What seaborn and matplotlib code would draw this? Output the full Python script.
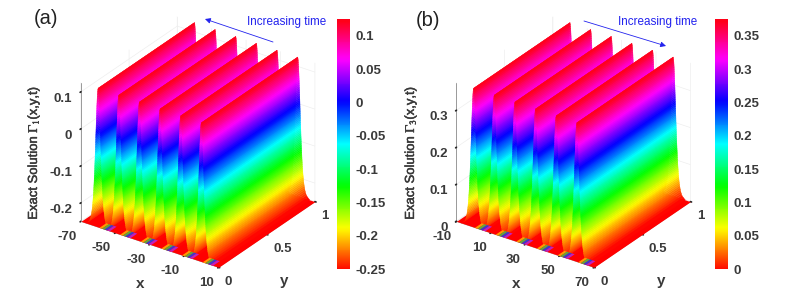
import numpy as np
import matplotlib

matplotlib.use("Agg")

import matplotlib.patheffects as pe
import matplotlib.pyplot as plt
import seaborn as sns
from matplotlib.cm import ScalarMappable
from matplotlib.colors import Normalize
from matplotlib.patches import FancyArrowPatch

sns.set_theme(style="white")
plt.rcParams["font.family"] = ["Liberation Sans", "DejaVu Sans"]
plt.rcParams["mathtext.fontset"] = "stix"

# ridge cross section: distance from crest, height fraction
wall_dx = [0, 0.22, 0.32, 0.39, 0.46, 0.51, 0.56, 0.61, 0.65, 0.70, 0.74, 0.78, 0.82, 0.86,
           0.89, 0.93, 0.96, 1.00, 1.03, 1.07, 1.10, 1.13, 1.16, 1.19, 1.23, 1.26, 1.29,
           1.33, 1.36, 1.39, 1.42, 1.46, 1.49, 1.52, 1.56, 1.59, 1.62, 1.65, 1.69, 1.73,
           1.76, 1.80, 1.84, 1.87, 1.91, 1.94, 1.98, 2.02, 2.06, 2.10, 2.14, 2.18, 2.23,
           2.28, 2.33, 2.37, 2.42, 2.47, 2.52, 2.57, 2.63, 2.69, 2.75, 2.82, 2.89, 2.96,
           3.03, 3.11, 3.20, 3.29, 3.39, 3.51, 3.64, 3.78, 3.94, 4.13, 4.36, 4.67, 5.04,
           5.85, 7.0]
wall_height = [1.0, 0.9875, 0.975, 0.9625, 0.95, 0.9375, 0.925, 0.9125, 0.9, 0.8875, 0.875,
               0.8625, 0.85, 0.8375, 0.825, 0.8125, 0.8, 0.7875, 0.775, 0.7625, 0.75, 0.7375,
               0.725, 0.7125, 0.7, 0.6875, 0.675, 0.6625, 0.65, 0.6375, 0.625, 0.6125, 0.6,
               0.5875, 0.575, 0.5625, 0.55, 0.5375, 0.525, 0.5125, 0.5, 0.4875, 0.475, 0.4625,
               0.45, 0.4375, 0.425, 0.4125, 0.4, 0.3875, 0.375, 0.3625, 0.35, 0.3375, 0.325,
               0.3125, 0.3, 0.2875, 0.275, 0.2625, 0.25, 0.2375, 0.225, 0.2125, 0.2, 0.1875,
               0.175, 0.1625, 0.15, 0.1375, 0.125, 0.1125, 0.1, 0.0875, 0.075, 0.0625, 0.05,
               0.0375, 0.025, 0.0125, 0.0]

# coloured stripes on the floor at the y=0 edge, just past each crest
stripe_dx = [0.5, 2.0, 3.5, 5.0, 6.5]
stripe_colors = ["#ff9a00", "#5fa83c", "#3a3ad0", "#c020c0"]
stripe_y = [0, 0.07]

peaks_a = [-60, -48, -36, -24, -12, 0]
xlim_a = [-70, 10]
xticks_a = [-70, -50, -30, -10, 10]
zlim_a = [-0.25, 0.125]
zticks_a = [-0.2, -0.1, 0, 0.1]
zlabels_a = ["-0.2", "-0.1", "0", "0.1"]
cticks_a = [-0.25, -0.2, -0.15, -0.1, -0.05, 0, 0.05, 0.1]
clabels_a = ["-0.25", "-0.2", "-0.15", "-0.1", "-0.05", "0", "0.05", "0.1"]

peaks_b = [0, 12, 24, 36, 48, 60]
xlim_b = [-10, 70]
xticks_b = [-10, 10, 30, 50, 70]
zlim_b = [0, 0.375]
zticks_b = [0, 0.1, 0.2, 0.3]
zlabels_b = ["0", "0.1", "0.2", "0.3"]
cticks_b = [0, 0.05, 0.1, 0.15, 0.2, 0.25, 0.3, 0.35]
clabels_b = ["0", "0.05", "0.1", "0.15", "0.2", "0.25", "0.3", "0.35"]

yticks = [0, 0.5, 1]
ylabels = ["0", "0.5", "1"]

W, H = 792, 302
TICK = "#3a3a3a"
BLUE = "#2222ee"


def px_box(x0, y0, x1, y1):
    return [x0 / W, 1 - y1 / H, (x1 - x0) / W, (y1 - y0) / H]


def draw_panel(fig, box, cbox, peaks, xlim, xticks, zlim, zticks, zlabels, cticks, clabels):
    ax = fig.add_axes(px_box(*box), projection="3d", computed_zorder=False)
    ax.set_proj_type("ortho")
    ax.view_init(elev=28.5, azim=-55)
    ax.set_box_aspect((1, 1, 0.94), zoom=0.955)
    ax.set_xlim(xlim)
    ax.set_ylim(0, 1)
    ax.set_zlim(zlim)
    ax.patch.set_alpha(0)

    norm = Normalize(zlim[0], zlim[1])
    span = zlim[1] - zlim[0]
    dx = np.array(wall_dx)
    height = zlim[0] + np.array(wall_height) * span

    floor_x, floor_y = np.meshgrid(xlim, [0, 1])
    ax.plot_surface(floor_x, floor_y, np.full((2, 2), zlim[0]), color="#ff0000", shade=False,
                    linewidth=0, zorder=1)

    order = 2
    for peak in peaks:
        for sign in [-1, 1]:
            X, Y = np.meshgrid(peak + sign * dx, [0, 1])
            Z = np.vstack([height, height])
            surf = ax.plot_surface(X, Y, Z, cmap="hsv", norm=norm, rstride=1, cstride=1,
                                   shade=False, linewidth=0.3, antialiased=True, zorder=order)
            surf.set_edgecolor("face")
            order += 1

    for peak in peaks:
        for i, colour in enumerate(stripe_colors):
            X, Y = np.meshgrid([peak + stripe_dx[i], peak + stripe_dx[i + 1]], stripe_y)
            ax.plot_surface(X, Y, np.full((2, 2), zlim[0]), color=colour, shade=False,
                            linewidth=0, zorder=order)
            order += 1

    for axis in [ax.xaxis, ax.yaxis, ax.zaxis]:
        axis.set_pane_color((1, 1, 1, 0))
        axis.pane.set_edgecolor("#9a9a9a")
        axis.pane.set_linewidth(0.7)
        axis.line.set_color("#9a9a9a")
        axis.line.set_linewidth(0.7)
        axis._axinfo["grid"]["color"] = "#eeeeee"
        axis._axinfo["grid"]["linewidth"] = 0.5
        axis._axinfo["tick"]["inward_factor"] = 0.1
        axis._axinfo["tick"]["outward_factor"] = 0.0
        axis._axinfo["tick"]["color"] = "#9a9a9a"

    ax.set_xticks(xticks)
    ax.set_xticklabels([str(v) for v in xticks])
    ax.set_yticks(yticks)
    ax.set_yticklabels(ylabels)
    ax.set_zticks(zticks)
    ax.set_zticklabels(zlabels)
    ax.zaxis.set_ticks_position("lower")
    ax.tick_params(axis="x", labelsize=9.5, labelcolor=TICK, pad=-3)
    ax.tick_params(axis="y", labelsize=9.5, labelcolor=TICK, pad=-3)
    ax.tick_params(axis="z", labelsize=9.5, labelcolor=TICK, pad=-4)
    for lab in ax.get_xticklabels():
        lab.set_fontweight("bold")
        lab.set_ha("right")
    for lab in ax.get_yticklabels():
        lab.set_fontweight("bold")
        lab.set_ha("left")
    for lab in ax.get_zticklabels():
        lab.set_fontweight("bold")
        lab.set_ha("right")

    cax = fig.add_axes(px_box(*cbox))
    cbar = fig.colorbar(ScalarMappable(norm=norm, cmap="hsv"), cax=cax)
    cbar.set_ticks(cticks)
    cbar.set_ticklabels(clabels)
    cbar.ax.tick_params(length=0, pad=4, labelsize=9.5, labelcolor=TICK)
    for lab in cbar.ax.get_yticklabels():
        lab.set_fontweight("bold")
    cbar.outline.set_visible(False)
    cbar.solids.set_edgecolor("face")
    return ax


fig = plt.figure(figsize=(W / 100, H / 100), dpi=100)

draw_panel(fig, (34, 1, 354, 291), (337, 19, 350, 269), peaks_a, xlim_a, xticks_a, zlim_a,
           zticks_a, zlabels_a, cticks_a, clabels_a)
draw_panel(fig, (409.5, 1, 729.5, 291), (715, 19, 728, 269), peaks_b, xlim_b, xticks_b, zlim_b,
           zticks_b, zlabels_b, cticks_b, clabels_b)


def fig_text(x, y, s, **kw):
    return fig.text(x / W, 1 - y / H, s, ha="center", va="center", **kw)


fig_text(46, 18, "(a)", fontsize=14.5, color="#222222")
fig_text(428, 21, "(b)", fontsize=14.5, color="#222222")
fig_text(287, 22, "Increasing time", fontsize=8.4, color=BLUE)
fig_text(658, 22, "Increasing time", fontsize=8.4, color=BLUE)
for x_px, name in [(34, r"$\Gamma_1$"), (411, r"$\Gamma_3$")]:
    label = fig_text(x_px, 153, "Exact Solution " + name + "(x,y,t)", fontsize=9.4, color=TICK,
                     rotation=90)
    label.set_path_effects([pe.withStroke(linewidth=0.35, foreground=TICK)])
fig_text(140, 284, "x", fontsize=11, fontweight="bold", color=TICK)
fig_text(284, 281, "y", fontsize=11, fontweight="bold", color=TICK)
fig_text(516, 284, "x", fontsize=11, fontweight="bold", color=TICK)
fig_text(661, 281, "y", fontsize=11, fontweight="bold", color=TICK)

for start, end in [((273, 42), (205, 19)), ((584, 21), (666, 46))]:
    fig.add_artist(FancyArrowPatch((start[0] / W, 1 - start[1] / H), (end[0] / W, 1 - end[1] / H),
                                   transform=fig.transFigure, arrowstyle="-|>", color=BLUE,
                                   lw=0.6, mutation_scale=8, shrinkA=0, shrinkB=0))

fig.savefig("out.png", dpi=100)
